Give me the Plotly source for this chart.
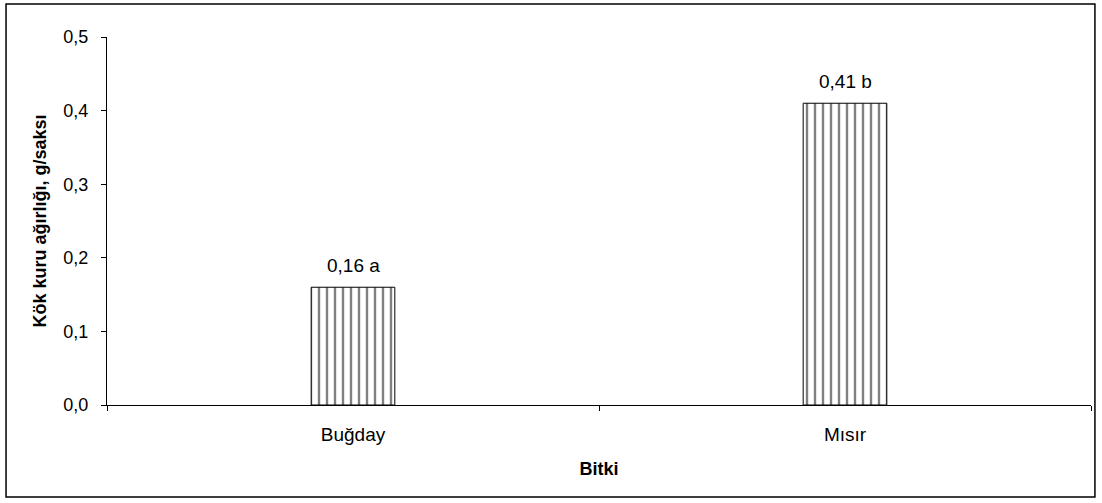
import plotly.graph_objects as go

categories = ["Buğday", "Mısır"]
values = [0.16, 0.41]
labels = ["0,16 a", "0,41 b"]
y_ticks = [0.0, 0.1, 0.2, 0.3, 0.4, 0.5]

FONT = "Arial, Liberation Sans, sans-serif"

fig = go.Figure()
fig.add_trace(go.Bar(
    x=categories, y=values,
    width=0.17,
    marker=dict(color="white", line=dict(color="black", width=1),
                pattern=dict(shape="|", fgcolor="black", bgcolor="white", size=8, solidity=0.3)),
))

for c, v, t in zip(categories, values, labels):
    fig.add_annotation(x=c, y=v, text=t, showarrow=False, yanchor="bottom",
                       yshift=9, font=dict(size=19, color="black", family=FONT))

fig.update_layout(
    width=1102, height=503,
    margin=dict(l=107, r=11, t=37, b=98),
    paper_bgcolor="white", plot_bgcolor="white",
    separators=", ",
    showlegend=False,
    font=dict(family=FONT, size=18, color="black"),
    xaxis=dict(
        title=dict(text="<b>Bitki</b>", font=dict(size=18), standoff=18),
        showline=True, linecolor="black", linewidth=1,
        ticks="outside", ticklen=5, tickcolor="black", tickson="boundaries",
        tickfont=dict(size=19), ticklabelstandoff=12,
        showgrid=False, range=[-0.5, 1.5],
    ),
    yaxis=dict(
        title=dict(text="<b>Kök kuru ağırlığı, g/saksı</b>", font=dict(size=18), standoff=12),
        showline=True, linecolor="black", linewidth=1,
        ticks="outside", ticklen=5, tickcolor="black",
        tickvals=y_ticks, tickformat=".1f", tickfont=dict(size=18), ticklabelstandoff=9,
        range=[0, 0.5], showgrid=False, zeroline=False,
    ),
    shapes=[dict(type="rect", xref="paper", yref="paper",
                 x0=-0.1026, x1=1.004, y0=-0.25, y1=1.0897,
                 line=dict(color="black", width=1.5))],
)

fig.write_html("out.html", config={"displayModeBar": False},
               post_script="document.body.style.margin='0';")
